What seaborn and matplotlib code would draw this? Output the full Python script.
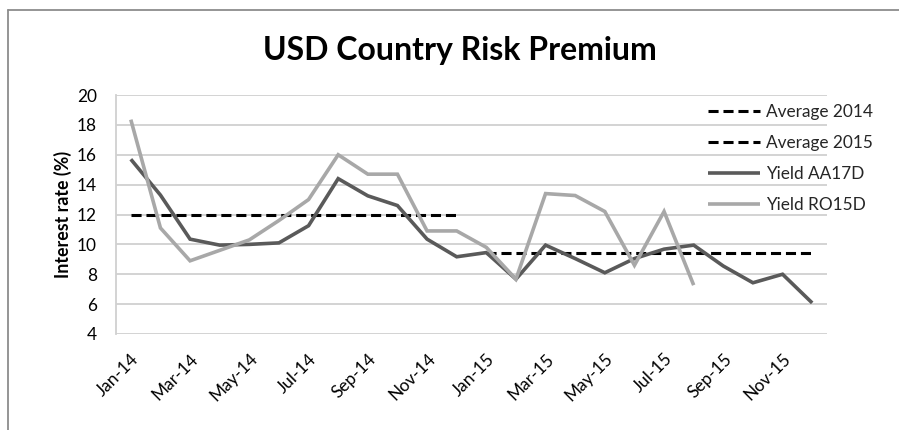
import numpy as np
import pandas as pd
import matplotlib
matplotlib.use("Agg")
import matplotlib.pyplot as plt
from matplotlib.lines import Line2D
import seaborn as sns

# Monthly observations, Jan-14 .. Dec-15
months = ["Jan-14", "Feb-14", "Mar-14", "Apr-14", "May-14", "Jun-14",
          "Jul-14", "Aug-14", "Sep-14", "Oct-14", "Nov-14", "Dec-14",
          "Jan-15", "Feb-15", "Mar-15", "Apr-15", "May-15", "Jun-15",
          "Jul-15", "Aug-15", "Sep-15", "Oct-15", "Nov-15", "Dec-15"]

yield_aa17d = [15.7, 13.3, 10.35, 9.95, 10.0, 10.1, 11.25, 14.4, 13.25, 12.6, 10.35, 9.17,
               9.45, 7.67, 9.95, 9.05, 8.1, 9.05, 9.68, 9.95, 8.55, 7.43, 8.0, 6.08]

yield_ro15d = [18.35, 11.1, 8.9, 9.6, 10.3, 11.6, 13.0, 16.0, 14.7, 14.7, 10.9, 10.9,
               9.8, 7.67, 13.4, 13.27, 12.2, 8.6, 12.2, 7.27,
               np.nan, np.nan, np.nan, np.nan]

average_2014 = 12.0
average_2015 = 9.4

y_ticks = [4, 6, 8, 10, 12, 14, 16, 18, 20]
x_tick_labels = months[::2]

W, H = 899, 430
sns.set_theme(style="white")
plt.rcParams["font.family"] = ["Lato", "DejaVu Sans"]
FS = 12.4

fig = plt.figure(figsize=(W / 100, H / 100), dpi=100)
fig.patch.set_facecolor("white")

# plot area in pixel coordinates
left, right, top, bottom = 116, 827, 95, 334
ax = fig.add_axes([left / W, 1 - bottom / H, (right - left) / W, (bottom - top) / H])

idx = np.arange(len(months))
df = pd.DataFrame({
    "idx": idx,
    "aa17d": yield_aa17d,
    "ro15d": yield_ro15d,
    "avg14": [average_2014 if i < 12 else np.nan for i in idx],
    "avg15": [average_2015 if i >= 12 else np.nan for i in idx],
})

dash = (3.3, 1.6)
lw_avg = 2.2
sns.lineplot(data=df.dropna(subset=["avg14"]), x="idx", y="avg14", ax=ax,
             color="black", lw=lw_avg, dashes=False, label="Average 2014")
sns.lineplot(data=df.dropna(subset=["avg15"]), x="idx", y="avg15", ax=ax,
             color="black", lw=lw_avg, dashes=False, label="Average 2015")
sns.lineplot(data=df, x="idx", y="aa17d", ax=ax, color="#5a5a5a", lw=2.6,
             label="Yield AA17D")
sns.lineplot(data=df.dropna(subset=["ro15d"]), x="idx", y="ro15d", ax=ax,
             color="#a8a8a8", lw=2.6, label="Yield RO15D")

for ln in ax.lines[:2]:
    ln.set_dashes(dash)
for ln in ax.lines[2:]:
    ln.set_solid_capstyle("butt")
    ln.set_solid_joinstyle("miter")

ax.set_xlim(-0.5, len(months) - 0.5)
ax.set_ylim(4, 20)
ax.set_yticks(y_ticks)
ax.set_yticklabels([str(v) for v in y_ticks], fontsize=FS, color="black")
ax.set_xticks(idx[::2])
ax.set_xticklabels(x_tick_labels, rotation=45, ha="right", rotation_mode="anchor",
                   fontsize=FS, color="black")
ax.tick_params(axis="y", length=0, pad=13.7)
ax.tick_params(axis="x", length=0, pad=12)
ax.set_xlabel("")
ax.set_ylabel("")

grid_c = "#d0d0d0"
ax.grid(axis="y", color=grid_c, lw=1.3)
ax.set_axisbelow(True)
for s in ["top", "right", "bottom"]:
    ax.spines[s].set_visible(False)
ax.spines["left"].set_color(grid_c)
ax.spines["left"].set_linewidth(1.3)

handles, labels = ax.get_legend_handles_labels()
for h in handles[:2]:
    h.set_dashes(dash)
ax.legend(handles, labels, loc="upper left", bbox_to_anchor=(708 / W, 1 - 104 / H),
          bbox_transform=fig.transFigure, frameon=False, fontsize=FS,
          handlelength=3.0, handletextpad=0.35, labelspacing=0.87, borderaxespad=0,
          borderpad=0)

fig.text(459.5 / W, 1 - 60 / H, "USD Country Risk Premium", ha="center", va="baseline",
         fontsize=23, fontweight="bold", color="black")
fig.text(63 / W, 1 - 214.5 / H, "Interest rate (%)", ha="center", va="center",
         rotation=90, fontsize=12.8, fontweight="bold", color="black")

# chart frame, visible on its left and top edges
frame_c = "#8c8c8c"
fig.add_artist(Line2D([8 / W, 8 / W], [0, 1 - 10 / H], transform=fig.transFigure,
                      color=frame_c, lw=1.3))
fig.add_artist(Line2D([8 / W, 1], [1 - 10 / H, 1 - 10 / H], transform=fig.transFigure,
                      color=frame_c, lw=1.3))

fig.savefig("out.png", dpi=100, facecolor="white")
